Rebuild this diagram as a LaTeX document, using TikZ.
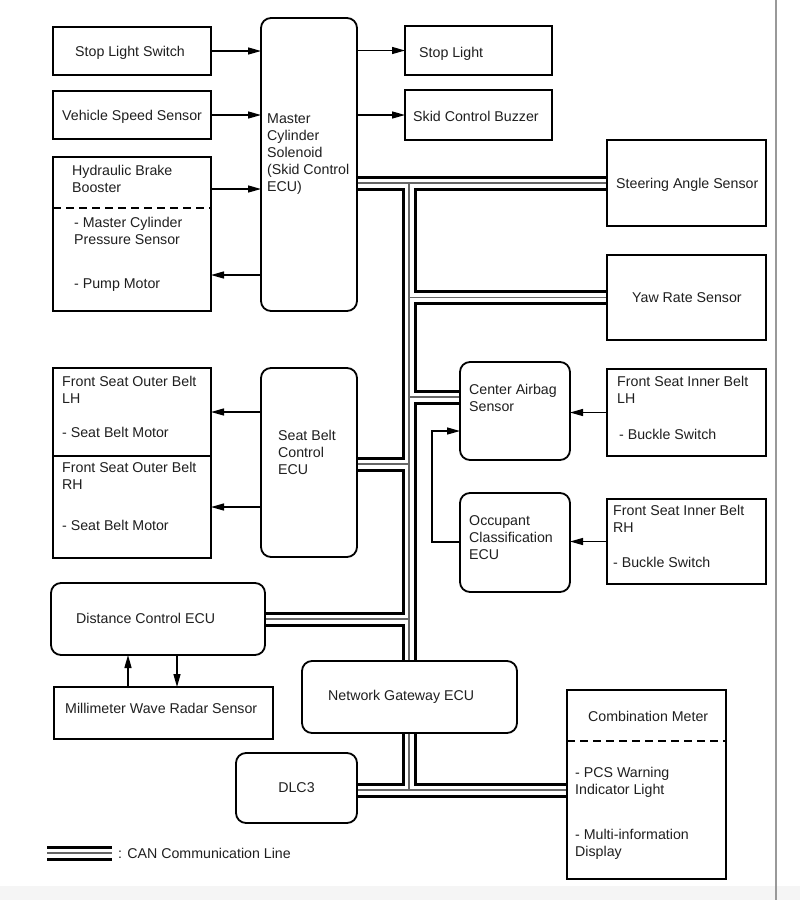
\documentclass[tikz,border=0pt]{standalone}
\usepackage{fontspec}
\setmainfont{Liberation Sans}
\usetikzlibrary{arrows.meta,calc}
\pgfdeclarelayer{bg}
\pgfsetlayers{bg,main}
\newcommand\mkbox[6][box]{\node[#1, minimum width={(#5-#3)*1pt}, minimum height={(#6-#4)*1pt}] (#2) at (#3,#4) {};}
\newcommand\canbus[1]{\draw[#1]
  (mcs.east |- sas.west) -- (sas.west)
  (tT) -- (tB)
  (tT |- yrs.west) -- (yrs.west)
  (tT |- cb1) -- (cas.west |- cb1)
  (sbc.east |- cb2) -- (tT |- cb2)
  (dce.east) -- (dce.east -| tT)
  (dlc.east |- tB) -- (cmb.west |- tB)
  (lg1) -- (lg2);}
\begin{document}
\begin{tikzpicture}[x=1pt,y=-1pt,
  box/.style={draw=black, line width=1.8pt, fill=white, inner sep=0pt, outer sep=0pt, anchor=north west},
  rbox/.style={box, rounded corners=10pt},
  lbl/.style={anchor=base west, inner sep=0pt, align=left, font=\fontsize{14.2}{17}\selectfont, text=black!88},
  arr/.style={line width=1.3pt, -{Triangle[length=13pt,width=7pt]}},
  sepline/.style={line width=1.8pt, dash pattern=on 8pt off 5pt}]
\useasboundingbox (0,0) rectangle (800,900);

% boxes
\mkbox{sls}{53}{27}{211}{75}
\mkbox{vss}{53}{91}{211}{139}
\mkbox{hbb}{53}{157}{211}{311}
\mkbox[rbox]{mcs}{261}{18}{357}{311}
\mkbox{sl}{405}{26}{552}{75}
\mkbox{scb}{405}{90}{552}{140}
\mkbox{sas}{607}{140}{766}{226}
\mkbox{yrs}{607}{255}{766}{340}
\mkbox[rbox]{cas}{460}{362}{570}{460}
\mkbox{ilh}{607}{369}{766}{456}
\mkbox[rbox]{ocu}{460}{493}{570}{592}
\mkbox{irh}{607}{499}{766}{584}
\mkbox{olh}{53}{368}{211}{456}
\mkbox{orh}{53}{456}{211}{558}
\mkbox[rbox]{sbc}{261}{368}{357}{557}
\mkbox[rbox]{dce}{51}{583}{265}{655}
\mkbox{mwr}{54}{687}{273}{739}
\mkbox[rbox]{nge}{302}{661}{517}{733}
\mkbox[rbox]{dlc}{236}{753}{357}{823}
\mkbox{cmb}{567}{690}{726}{879}

% dashed separators
\draw[sepline] (hbb.west |- 0,208) -- (hbb.east |- 0,208);
\draw[sepline] (cmb.west |- 0,741) -- (cmb.east |- 0,741);

% texts (anchor = baseline of the last line)
\node[lbl] (tsls) at (75,56) {Stop Light Switch};
\node[lbl] (tvss) at (62,120) {Vehicle Speed Sensor};
\node[lbl] (thbb1) at (72,192) {Hydraulic Brake\\Booster};
\node[lbl] (thbb2) at (74,244) {- Master Cylinder\\Pressure Sensor};
\node[lbl] (thbb3) at (74,288) {- Pump Motor};
\node[lbl] (tmcs) at (267,191) {Master\\Cylinder\\Solenoid\\(Skid Control\\ECU)};
\node[lbl] (tsl) at (419,57) {Stop Light};
\node[lbl] (tscb) at (413,121) {Skid Control Buzzer};
\node[lbl] (tsas) at (616,188) {Steering Angle Sensor};
\node[lbl] (tyrs) at (632,302) {Yaw Rate Sensor};
\node[lbl] (tcas) at (469,411) {Center Airbag\\Sensor};
\node[lbl] (tilh) at (617,403) {Front Seat Inner Belt\\LH};
\node[lbl] (tilh2) at (619,439) {- Buckle Switch};
\node[lbl] (tocu) at (469,559) {Occupant\\Classification\\ECU};
\node[lbl] (tirh) at (613,532) {Front Seat Inner Belt\\RH};
\node[lbl] (tirh2) at (613,567) {- Buckle Switch};
\node[lbl] (tolh) at (62,403) {Front Seat Outer Belt\\LH};
\node[lbl] (tolh2) at (62,437) {- Seat Belt Motor};
\node[lbl] (torh) at (62,489) {Front Seat Outer Belt\\RH};
\node[lbl] (torh2) at (62,530) {- Seat Belt Motor};
\node[lbl] (tsbc) at (278,474) {Seat Belt\\Control\\ECU};
\node[lbl] (tdce) at (76,623) {Distance Control ECU};
\node[lbl] (tmwr) at (65,713) {Millimeter Wave Radar Sensor};
\node[lbl] (tnge) at (328,700) {Network Gateway ECU};
\node[lbl, anchor=center] (tdlc) at (dlc.center) {DLC3};
\node[lbl] (tcmb) at (588,721) {Combination Meter};
\node[lbl] (tcmb2) at (575,794) {- PCS Warning\\Indicator Light};
\node[lbl] (tcmb3) at (575,856) {- Multi-information\\Display};
\node[lbl] (tleg) at (118,858) {: CAN Communication Line};

% arrows
\draw[arr] (sls.east) -- (sls.east -| mcs.west);
\draw[arr] (vss.east) -- (vss.east -| mcs.west);
\draw[arr] (hbb.east |- 0,189) -- (mcs.west |- 0,189);
\draw[arr] (mcs.west |- 0,275) -- (hbb.east |- 0,275);
\draw[arr] (mcs.east |- sl.west) -- (sl.west);
\draw[arr] (mcs.east |- scb.west) -- (scb.west);
\draw[arr] (sbc.west |- olh.east) -- (olh.east);
\draw[arr] (sbc.west |- orh.east) -- (orh.east);
\draw[arr] (ilh.west) -- (ilh.west -| cas.east);
\draw[arr] (irh.west) -- (irh.west -| ocu.east);
\coordinate (oc1) at (432,542);
\coordinate (oc2) at (432,431);
\draw[arr] (ocu.west |- oc1) -- (oc1) -- (oc2) -- (cas.west |- oc2);
\draw[arr] (mwr.north -| 128,0) -- (dce.south -| 128,0);
\draw[arr] (dce.south -| 177,0) -- (mwr.north -| 177,0);

% CAN bus
\coordinate (tT) at (409,183);
\coordinate (tB) at (409,790);
\coordinate (cb1) at (0,397);
\coordinate (cb2) at (0,464);
\coordinate (lg1) at (47,853);
\coordinate (lg2) at (112,853);
\begin{pgfonlayer}{bg}
  \fill[black!4] (0,886) rectangle (800,900);
  \draw[black!40, line width=2pt] (776,0) -- (776,900);
  \canbus{line width=15pt, black}
  \canbus{line width=9pt, white}
  \canbus{line width=1.6pt, black!60}
\end{pgfonlayer}
\end{tikzpicture}
\end{document}
